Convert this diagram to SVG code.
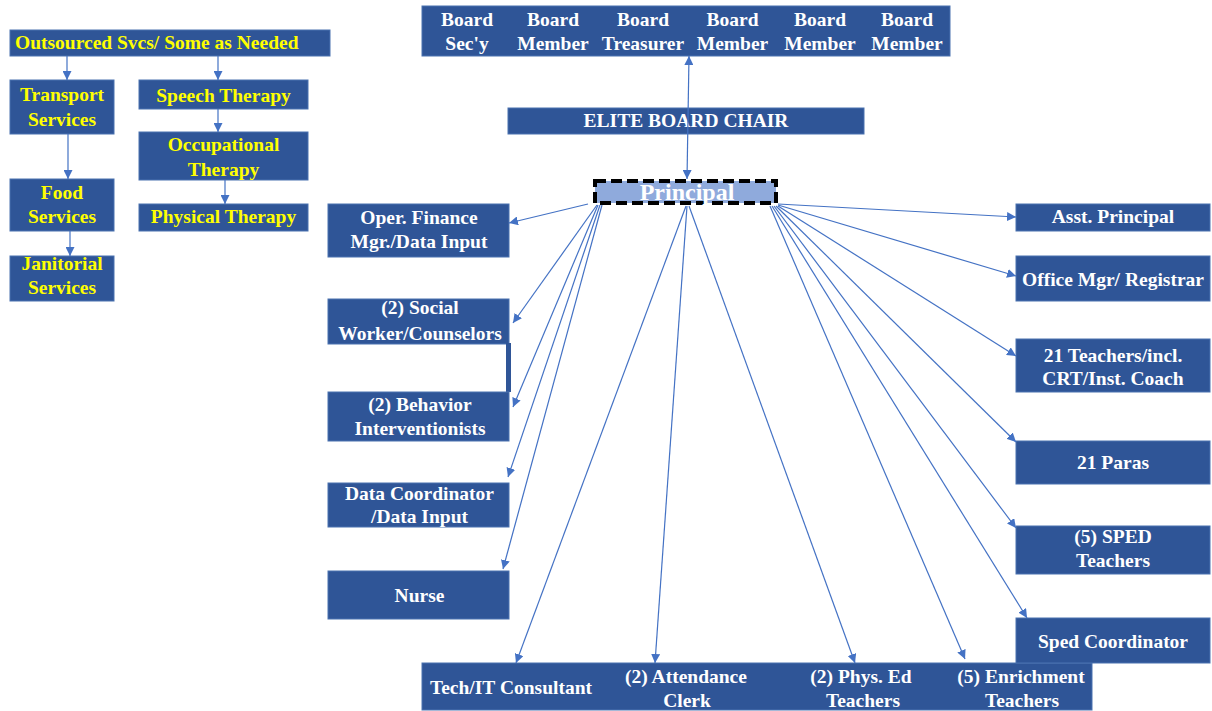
<svg xmlns="http://www.w3.org/2000/svg" width="1212" height="711" viewBox="0 0 1212 711">
<defs>
<style>
.box{fill:#2F5597;stroke:#4A72B0;stroke-width:1}
.t{font-family:"Liberation Serif","Times New Roman",serif;font-weight:bold;font-size:19.5px;fill:#FFFFFF;text-anchor:middle}
.y{fill:#FFFF00}
.c{stroke:#4472C4;stroke-width:1.2;fill:none;marker-end:url(#ah)}
</style>
<marker id="ah" viewBox="0 0 10 10" refX="10" refY="5" markerWidth="9" markerHeight="9" markerUnits="userSpaceOnUse" orient="auto-start-reverse">
<path d="M0,0 L10,5 L0,10 z" fill="#4472C4"/>
</marker>
</defs>
<rect width="1212" height="711" fill="#FFFFFF"/>

<g id="outsourced">
<rect class="box" x="10" y="30" width="320" height="26"/>
<text class="t y" x="15" y="49" style="text-anchor:start">Outsourced Svcs/ Some as Needed</text>
</g>
<g id="transport">
<rect class="box" x="10" y="80" width="104" height="54"/>
<text class="t y" x="62" y="101">Transport</text>
<text class="t y" x="62" y="126">Services</text>
</g>
<g id="food">
<rect class="box" x="10" y="179" width="104" height="52"/>
<text class="t y" x="62" y="199">Food</text>
<text class="t y" x="62" y="223">Services</text>
</g>
<g id="janitorial">
<rect class="box" x="10" y="256" width="104" height="45"/>
<text class="t y" x="62" y="270">Janitorial</text>
<text class="t y" x="62" y="294">Services</text>
</g>
<g id="speech">
<rect class="box" x="139" y="80" width="169" height="29"/>
<text class="t y" x="223.5" y="102">Speech Therapy</text>
</g>
<g id="occupational">
<rect class="box" x="139" y="132" width="169" height="48"/>
<text class="t y" x="223.5" y="151">Occupational</text>
<text class="t y" x="223.5" y="176">Therapy</text>
</g>
<g id="physical">
<rect class="box" x="139" y="204" width="169" height="27"/>
<text class="t y" x="223.5" y="223">Physical Therapy</text>
</g>

<g id="board">
<rect class="box" x="422" y="6" width="528" height="50"/>
<text class="t" x="467" y="26">Board</text><text class="t" x="467" y="50">Sec'y</text>
<text class="t" x="553" y="26">Board</text><text class="t" x="553" y="50">Member</text>
<text class="t" x="643" y="26">Board</text><text class="t" x="643" y="50">Treasurer</text>
<text class="t" x="732.5" y="26">Board</text><text class="t" x="732.5" y="50">Member</text>
<text class="t" x="820" y="26">Board</text><text class="t" x="820" y="50">Member</text>
<text class="t" x="907" y="26">Board</text><text class="t" x="907" y="50">Member</text>
</g>
<g id="chair">
<rect class="box" x="508" y="108" width="356" height="26"/>
<text class="t" x="686" y="127">ELITE BOARD CHAIR</text>
</g>
<g id="principal">
<rect x="595" y="181" width="181" height="22" fill="#8FAADC" stroke="#000000" stroke-width="4" stroke-dasharray="11,5"/>
<text class="t" x="687" y="200" style="font-size:24px">Principal</text>
</g>

<g id="oper-finance">
<rect class="box" x="328" y="204" width="181" height="53"/>
<text class="t" x="419" y="224">Oper. Finance</text>
<text class="t" x="419" y="248">Mgr./Data Input</text>
</g>
<g id="social-worker">
<rect class="box" x="328" y="299" width="181" height="45"/>
<rect x="506" y="343" width="5" height="49" fill="#2F5597"/>
<text class="t" x="420" y="314">(2) Social</text>
<text class="t" x="420" y="340">Worker/Counselors</text>
</g>
<g id="behavior">
<rect class="box" x="328" y="392" width="181" height="49"/>
<text class="t" x="420" y="411">(2) Behavior</text>
<text class="t" x="420" y="435">Interventionists</text>
</g>
<g id="data-coordinator">
<rect class="box" x="328" y="483" width="181" height="44"/>
<text class="t" x="419.5" y="500">Data Coordinator</text>
<text class="t" x="419.5" y="523">/Data Input</text>
</g>
<g id="nurse">
<rect class="box" x="328" y="571" width="181" height="48"/>
<text class="t" x="419.5" y="602">Nurse</text>
</g>

<g id="bottom-row">
<rect class="box" x="422" y="663" width="670" height="47"/>
<text class="t" x="511" y="694">Tech/IT Consultant</text>
<text class="t" x="686" y="683">(2) Attendance</text>
<text class="t" x="687" y="707">Clerk</text>
<text class="t" x="861" y="683">(2) Phys. Ed</text>
<text class="t" x="863" y="707">Teachers</text>
<text class="t" x="1021" y="683">(5) Enrichment</text>
<text class="t" x="1022" y="707">Teachers</text>
</g>

<g id="asst-principal">
<rect class="box" x="1016" y="204" width="194" height="27"/>
<text class="t" x="1113" y="223">Asst. Principal</text>
</g>
<g id="office-mgr">
<rect class="box" x="1016" y="256" width="194" height="45"/>
<text class="t" x="1113" y="286">Office Mgr/ Registrar</text>
</g>
<g id="teachers">
<rect class="box" x="1016" y="339" width="194" height="53"/>
<text class="t" x="1113" y="362">21 Teachers/incl.</text>
<text class="t" x="1113" y="385">CRT/Inst. Coach</text>
</g>
<g id="paras">
<rect class="box" x="1016" y="441" width="194" height="43"/>
<text class="t" x="1113" y="469">21 Paras</text>
</g>
<g id="sped-teachers">
<rect class="box" x="1016" y="526" width="194" height="48"/>
<text class="t" x="1113" y="543">(5) SPED</text>
<text class="t" x="1113" y="567">Teachers</text>
</g>
<g id="sped-coordinator">
<rect class="box" x="1016" y="618" width="194" height="45"/>
<text class="t" x="1113" y="648">Sped Coordinator</text>
</g>

<g id="connectors">
<line class="c" x1="67" y1="56" x2="67" y2="80"/>
<line class="c" x1="218" y1="56" x2="218" y2="80"/>
<line class="c" x1="68" y1="134" x2="68" y2="179"/>
<line class="c" x1="70" y1="231" x2="70" y2="256"/>
<line class="c" x1="218" y1="109" x2="218" y2="132"/>
<line class="c" x1="225" y1="180" x2="225" y2="204"/>
<line class="c" x1="687" y1="179" x2="689" y2="56" style="marker-start:url(#ah)"/>
<line class="c" x1="588" y1="204" x2="509" y2="223"/>
<line class="c" x1="597" y1="205" x2="513" y2="323"/>
<line class="c" x1="598" y1="205" x2="513" y2="407"/>
<line class="c" x1="600" y1="205" x2="508" y2="477"/>
<line class="c" x1="602" y1="205" x2="503" y2="569"/>
<line class="c" x1="686" y1="206" x2="516" y2="663"/>
<line class="c" x1="687" y1="206" x2="655" y2="663"/>
<line class="c" x1="689" y1="206" x2="855" y2="663"/>
<line class="c" x1="770" y1="206" x2="965" y2="659"/>
<line class="c" x1="772" y1="206" x2="1027" y2="618"/>
<line class="c" x1="774" y1="206" x2="1016" y2="528"/>
<line class="c" x1="776" y1="206" x2="1016" y2="442"/>
<line class="c" x1="778" y1="206" x2="1016" y2="356"/>
<line class="c" x1="778" y1="205" x2="1016" y2="276"/>
<line class="c" x1="778" y1="204" x2="1016" y2="217"/>
</g>
</svg>
